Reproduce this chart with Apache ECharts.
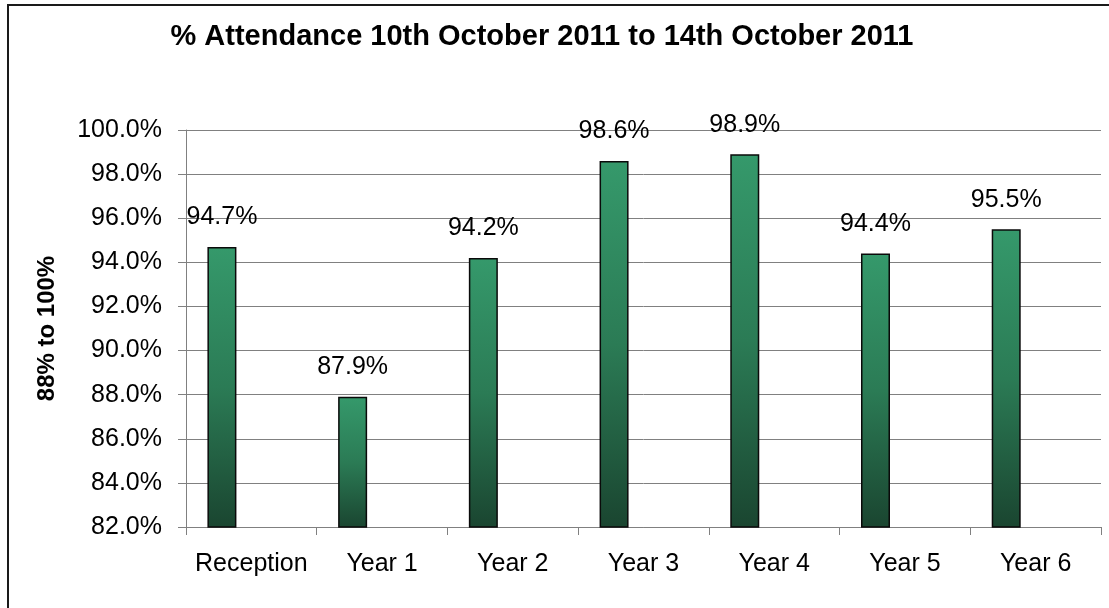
<!DOCTYPE html>
<html>
<head>
<meta charset="utf-8">
<script src="https://cdn.jsdelivr.net/npm/echarts@6/dist/echarts.min.js"></script>
<style>
  html, body { margin: 0; padding: 0; background: #fff; }
  #chart { width: 1109px; height: 608px; }
</style>
</head>
<body>
<div id="chart"></div>
<script>
const titleText = '% Attendance 10th October 2011 to 14th October 2011';
const yAxisName = '88% to 100%';
const categories = ['Reception', 'Year 1', 'Year 2', 'Year 3', 'Year 4', 'Year 5', 'Year 6'];
const attendance = [94.7, 87.9, 94.2, 98.6, 98.9, 94.4, 95.5];
const spacer = [null, null, null, null, null, null, null];
const yMin = 82, yMax = 100, yStep = 2;

const FONT = '"Liberation Sans", Arial, sans-serif';
const chart = echarts.init(document.getElementById('chart'), null, { renderer: 'canvas' });

chart.setOption({
  backgroundColor: '#ffffff',
  animation: false,
  title: {
    text: titleText,
    left: 537,
    top: 17,
    textAlign: 'center',
    textStyle: { fontFamily: FONT, fontSize: 29, fontWeight: 'bold', color: '#000' }
  },
  graphic: [{
    type: 'rect',
    shape: { x: 8, y: 5, width: 1200, height: 700 },
    style: { fill: 'none', stroke: '#1a1a1a', lineWidth: 2 },
    silent: true
  }],
  grid: { left: 186, right: 8, top: 130, bottom: 81, containLabel: false },
  xAxis: {
    type: 'category',
    data: categories,
    axisLine: { lineStyle: { color: '#808080', width: 1 } },
    axisTick: { show: true, interval: 0, length: 8, lineStyle: { color: '#808080' } },
    axisLabel: { interval: 0, fontFamily: FONT, fontSize: 25, color: '#000', margin: 25 },
    splitLine: { show: false }
  },
  yAxis: {
    type: 'value',
    min: yMin, max: yMax, interval: yStep,
    name: yAxisName,
    nameLocation: 'middle',
    nameGap: 127,
    nameTextStyle: { fontFamily: FONT, fontSize: 24, fontWeight: 'bold', color: '#000' },
    axisLine: { show: true, lineStyle: { color: '#808080', width: 1 } },
    axisTick: { show: true, length: 8, lineStyle: { color: '#808080' } },
    axisLabel: {
      fontFamily: FONT, fontSize: 25, color: '#000', margin: 24,
      formatter: v => v.toFixed(1) + '%'
    },
    splitLine: { show: true, lineStyle: { color: '#808080', width: 1 } }
  },
  series: [{
    type: 'bar',
    data: attendance,
    barWidth: 29,
    barGap: '103%',
    itemStyle: {
      color: new echarts.graphic.LinearGradient(0, 0, 0, 1, [
        { offset: 0, color: '#35996b' },
        { offset: 0.5, color: '#2b7b55' },
        { offset: 1, color: '#1a4530' }
      ]),
      borderColor: '#0a0a0a',
      borderWidth: 1.5
    },
    label: {
      show: true,
      position: 'top',
      distance: 17,
      fontFamily: FONT,
      fontSize: 25,
      color: '#000',
      formatter: p => p.value.toFixed(1) + '%'
    }
  }, {
    type: 'bar',
    data: spacer,
    barWidth: 29,
    silent: true
  }]
});
</script>
</body>
</html>
